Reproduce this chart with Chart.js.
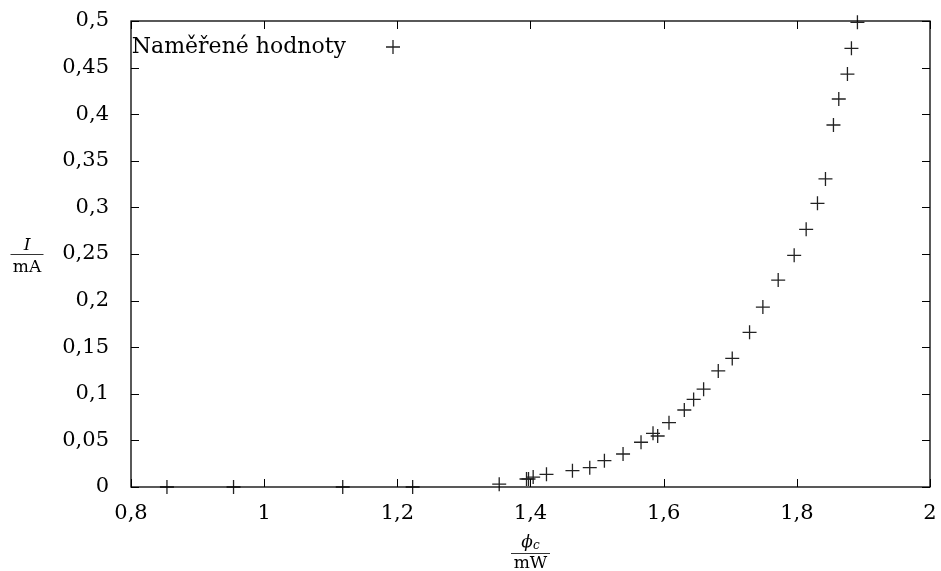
<!DOCTYPE html>
<html>
<head>
<meta charset="utf-8">
<script src="https://cdn.jsdelivr.net/npm/chart.js@4"></script>
<style>
html,body{margin:0;padding:0;background:#fff;}
#wrap{width:941px;height:571px;position:relative;}
</style>
</head>
<body>
<div id="wrap"><canvas id="c" width="941" height="571"></canvas></div>
<script>
const seriesName = "Naměřené hodnoty";
const xValues = [0.854, 0.954, 1.118, 1.223, 1.353, 1.394, 1.397, 1.404, 1.424, 1.463, 1.489, 1.511, 1.539, 1.566, 1.584, 1.591, 1.608, 1.631, 1.645, 1.660, 1.682, 1.703, 1.729, 1.749, 1.772, 1.796, 1.814, 1.831, 1.843, 1.855, 1.863, 1.876, 1.882, 1.891];
const yValues = [0, 0, 0, 0, 0.003, 0.0086, 0.0086, 0.0107, 0.0136, 0.0175, 0.0207, 0.0282, 0.0354, 0.048, 0.0576, 0.0547, 0.069, 0.0826, 0.094, 0.105, 0.1245, 0.138, 0.166, 0.193, 0.222, 0.2486, 0.2765, 0.3044, 0.3305, 0.3884, 0.4163, 0.443, 0.4707, 0.4986];
const xTickValues = [0.8, 1.0, 1.2, 1.4, 1.6, 1.8, 2.0];
const yTickValues = [0, 0.05, 0.1, 0.15, 0.2, 0.25, 0.3, 0.35, 0.4, 0.45, 0.5];
const xTitle = {num: "ϕ", sub: "c", den: "mW"};
const yTitle = {num: "I", den: "mA"};

const FONT = '"DejaVu Serif", "Liberation Serif", serif';
const fmt = v => String(Math.round(v * 100) / 100).replace('.', ',');

const points = xValues.map((x, i) => ({x: x, y: yValues[i]}));

const framePlugin = {
  id: 'frame',
  afterDraw(chart) {
    const ctx = chart.ctx;
    const a = chart.chartArea;
    const xs = chart.scales.x, ys = chart.scales.y;
    ctx.save();
    ctx.strokeStyle = '#000';
    ctx.lineWidth = 1.3;
    ctx.strokeRect(a.left, a.top, a.right - a.left, a.bottom - a.top);
    const tl = 8;
    ctx.lineWidth = 1;
    ctx.beginPath();
    xs.ticks.forEach(t => {
      const px = Math.round(xs.getPixelForValue(t.value)) + 0.5;
      ctx.moveTo(px, a.bottom); ctx.lineTo(px, a.bottom - tl);
      ctx.moveTo(px, a.top); ctx.lineTo(px, a.top + tl);
    });
    ys.ticks.forEach(t => {
      const py = Math.round(ys.getPixelForValue(t.value)) + 0.5;
      ctx.moveTo(a.left, py); ctx.lineTo(a.left + tl, py);
      ctx.moveTo(a.right, py); ctx.lineTo(a.right - tl, py);
    });
    ctx.stroke();

    // legend
    ctx.fillStyle = '#000';
    ctx.font = '22px ' + FONT;
    ctx.textAlign = 'right';
    ctx.textBaseline = 'middle';
    const ly = a.top + 26;
    ctx.fillText(seriesName, a.left + 215, ly);
    ctx.lineWidth = 1.3;
    ctx.strokeStyle = '#222';
    ctx.beginPath();
    const lx = a.left + 262;
    ctx.moveTo(lx - 7, ly); ctx.lineTo(lx + 7, ly);
    ctx.moveTo(lx, ly - 7); ctx.lineTo(lx, ly + 7);
    ctx.stroke();

    // y title (fraction)
    const yc = (a.top + a.bottom) / 2;
    const yx = 27;
    ctx.textAlign = 'center';
    ctx.textBaseline = 'alphabetic';
    ctx.font = 'italic 17px ' + FONT;
    ctx.fillText(yTitle.num, yx, yc - 4);
    ctx.font = '17px ' + FONT;
    ctx.fillText(yTitle.den, yx, yc + 17.5);
    ctx.strokeStyle = '#000';
    ctx.lineWidth = 0.8;
    ctx.beginPath();
    ctx.moveTo(yx - 16.5, yc + 0.5); ctx.lineTo(yx + 16.5, yc + 0.5);
    ctx.stroke();

    // x title (fraction)
    const xc = (a.left + a.right) / 2;
    const xl = 553;
    ctx.font = 'italic 17px ' + FONT;
    const w1 = ctx.measureText(xTitle.num).width;
    ctx.font = 'italic 12px ' + FONT;
    const w2 = ctx.measureText(xTitle.sub).width;
    const start = xc - (w1 + w2) / 2;
    ctx.textAlign = 'left';
    ctx.font = 'italic 17px ' + FONT;
    ctx.fillText(xTitle.num, start, xl - 6);
    ctx.font = 'italic 12px ' + FONT;
    ctx.fillText(xTitle.sub, start + w1, xl - 4);
    ctx.textAlign = 'center';
    ctx.font = '17px ' + FONT;
    ctx.fillText(xTitle.den, xc, xl + 15);
    ctx.beginPath();
    ctx.moveTo(xc - 19.5, xl + 0.5); ctx.lineTo(xc + 19.5, xl + 0.5);
    ctx.stroke();
    ctx.restore();
  }
};

new Chart(document.getElementById('c'), {
  type: 'scatter',
  data: {
    datasets: [{
      label: seriesName,
      data: points,
      pointStyle: 'cross',
      pointRadius: 7,
      pointHoverRadius: 7,
      borderColor: '#222',
      backgroundColor: '#222',
      pointBorderWidth: 1.3,
      borderWidth: 1.3,
      showLine: false
    }]
  },
  options: {
    responsive: false,
    animation: false,
    devicePixelRatio: 1,
    layout: {padding: {left: 0, right: 11, top: 21, bottom: 0}},
    plugins: {legend: {display: false}, tooltip: {enabled: false}},
    clip: false,
    scales: {
      x: {
        type: 'linear', min: 0.8, max: 2.0,
        afterBuildTicks: s => { s.ticks = xTickValues.map(v => ({value: v})); },
        afterFit: s => { s.height = 84; s.paddingLeft = 0; s.paddingRight = 0; },
        grid: {display: false},
        border: {display: false},
        ticks: {
          color: '#000', padding: 6,
          font: {family: FONT, size: 21},
          callback: v => fmt(v), maxRotation: 0, autoSkip: false
        }
      },
      y: {
        type: 'linear', min: 0, max: 0.5,
        afterBuildTicks: s => { s.ticks = yTickValues.map(v => ({value: v})); },
        afterFit: s => { s.width = 131; s.paddingTop = 0; s.paddingBottom = 0; },
        grid: {display: false},
        border: {display: false},
        ticks: {
          color: '#000', padding: 14,
          font: {family: FONT, size: 21},
          callback: v => fmt(v), autoSkip: false
        }
      }
    }
  },
  plugins: [framePlugin]
});
</script>
</body>
</html>
